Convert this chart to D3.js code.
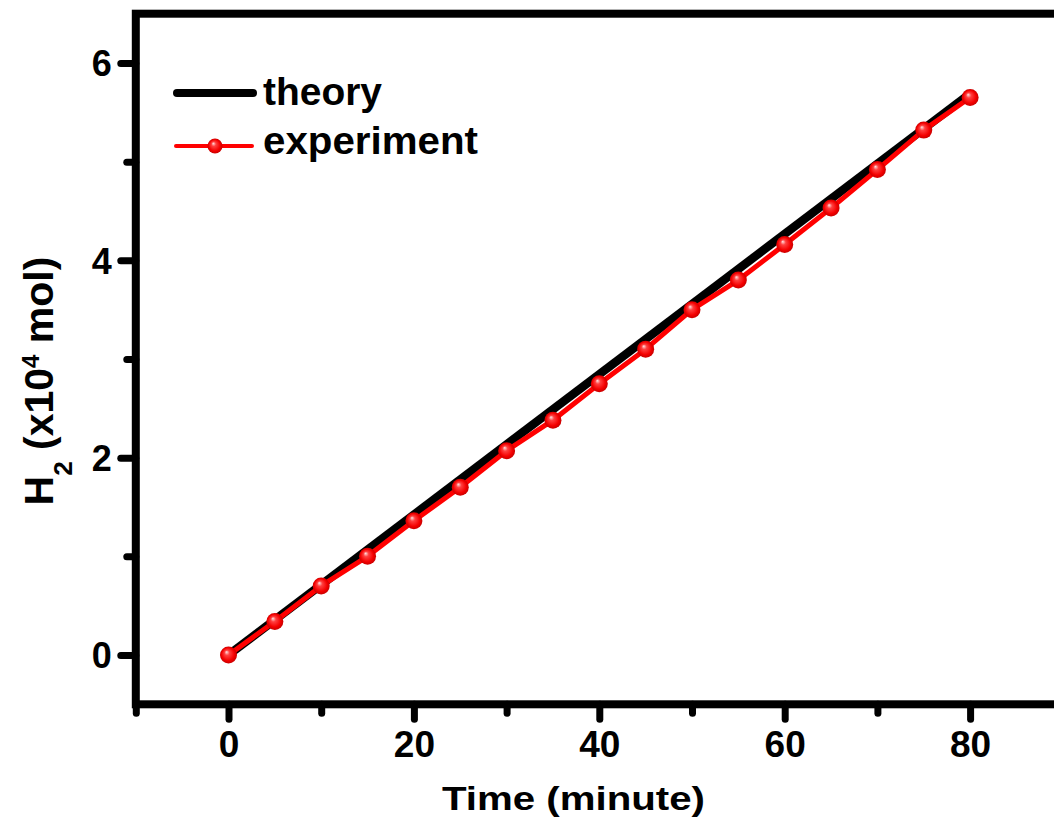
<!DOCTYPE html>
<html>
<head>
<meta charset="utf-8">
<script src="https://cdn.jsdelivr.net/npm/d3@7"></script>
<style>
  html, body { margin: 0; padding: 0; background: #fff; }
  svg { display: block; font-family: "Liberation Sans", Arial, sans-serif; font-weight: bold; }
</style>
</head>
<body>
<div id="chart"></div>
<script>
// data
const time = [0, 5, 10, 15, 20, 25, 30, 35, 40, 45, 50, 55, 60, 65, 70, 75, 80];
const experiment = [0, 0.34, 0.70, 1.00, 1.36, 1.70, 2.07, 2.38, 2.75, 3.10, 3.50, 3.80, 4.16, 4.53, 4.92, 5.32, 5.65];
const theoryTime = [0, 80];
const theory = [0, 5.69];
const xTicks = [0, 20, 40, 60, 80];
const xMinor = [-10, 10, 30, 50, 70, 90];
const yTicks = [0, 2, 4, 6];
const yMinor = [1, 3, 5];

const width = 1054, height = 827;

const svg = d3.select("#chart").append("svg")
  .attr("width", width)
  .attr("height", height);

const x = d3.scaleLinear().domain([-10, 90]).range([135.8, 1062.8]);
const y = d3.scaleLinear().domain([-0.5, 6.5]).range([704.3, 13.7]);

// marker gradient (shiny ball)
const grad = svg.append("defs").append("radialGradient")
  .attr("id", "ball")
  .attr("cx", "50%").attr("cy", "50%").attr("r", "50%")
  .attr("fx", "38%").attr("fy", "32%");
grad.append("stop").attr("offset", "0%").attr("stop-color", "#ffe4e4");
grad.append("stop").attr("offset", "30%").attr("stop-color", "#ff4040");
grad.append("stop").attr("offset", "75%").attr("stop-color", "#f40000");
grad.append("stop").attr("offset", "100%").attr("stop-color", "#c80000");

// axes with outward ticks
function styleAxis(g) {
  g.select(".domain").remove();
  g.selectAll("line").attr("stroke", "#000").attr("stroke-width", 7).attr("stroke-linecap", "round");
}

svg.append("g")
  .attr("transform", "translate(0," + y(-0.5) + ")")
  .call(d3.axisBottom(x).tickValues(xMinor).tickSize(9).tickFormat(""))
  .call(styleAxis);

svg.append("g")
  .attr("transform", "translate(0," + y(-0.5) + ")")
  .call(d3.axisBottom(x).tickValues(xTicks).tickSize(15).tickFormat(d3.format("d")))
  .call(styleAxis)
  .call(g => g.selectAll("text")
    .attr("y", 53).attr("dy", 0)
    .attr("fill", "#000")
    .style("font-size", "37px"));

svg.append("g")
  .attr("transform", "translate(" + x(-10) + ",0)")
  .call(d3.axisLeft(y).tickValues(yMinor).tickSize(9).tickFormat(""))
  .call(styleAxis);

svg.append("g")
  .attr("transform", "translate(" + x(-10) + ",0)")
  .call(d3.axisLeft(y).tickValues(yTicks).tickSize(15).tickFormat(d3.format("d")))
  .call(styleAxis)
  .call(g => g.selectAll("text")
    .attr("x", -24).attr("dy", "0.36em")
    .attr("fill", "#000")
    .style("font-size", "36px"));

// frame
svg.append("rect")
  .attr("x", x(-10)).attr("y", y(6.5))
  .attr("width", x(90) - x(-10)).attr("height", y(-0.5) - y(6.5))
  .attr("fill", "none").attr("stroke", "#000").attr("stroke-width", 8);

// theory line
const theoryLine = d3.line()
  .x((d, i) => x(theoryTime[i]))
  .y(d => y(d));

svg.append("path")
  .datum(theory)
  .attr("d", theoryLine)
  .attr("fill", "none")
  .attr("stroke", "#000")
  .attr("stroke-width", 8.5);

// experiment line + markers
const expLine = d3.line()
  .x((d, i) => x(time[i]))
  .y(d => y(d));

svg.append("path")
  .datum(experiment)
  .attr("d", expLine)
  .attr("fill", "none")
  .attr("stroke", "#ff0000")
  .attr("stroke-width", 5)
  .attr("stroke-linejoin", "round");

svg.append("g").selectAll("circle")
  .data(experiment)
  .join("circle")
  .attr("cx", (d, i) => x(time[i]))
  .attr("cy", d => y(d))
  .attr("r", 8.5)
  .attr("fill", "url(#ball)");

// legend
const legend = svg.append("g");
legend.append("line")
  .attr("x1", 177).attr("x2", 253).attr("y1", 93).attr("y2", 93)
  .attr("stroke", "#000").attr("stroke-width", 8).attr("stroke-linecap", "round");
legend.append("text")
  .attr("x", 263).attr("y", 105)
  .attr("textLength", 119).attr("lengthAdjust", "spacingAndGlyphs")
  .style("font-size", "38px")
  .text("theory");

legend.append("line")
  .attr("x1", 176).attr("x2", 252).attr("y1", 146).attr("y2", 146)
  .attr("stroke", "#ff0000").attr("stroke-width", 4).attr("stroke-linecap", "round");
legend.append("circle")
  .attr("cx", 215).attr("cy", 146).attr("r", 7.5)
  .attr("fill", "url(#ball)");
legend.append("text")
  .attr("x", 263).attr("y", 154)
  .attr("textLength", 215).attr("lengthAdjust", "spacingAndGlyphs")
  .style("font-size", "38px")
  .text("experiment");

// axis titles
svg.append("text")
  .attr("x", 573.5).attr("y", 810)
  .attr("text-anchor", "middle")
  .attr("textLength", 263).attr("lengthAdjust", "spacingAndGlyphs")
  .style("font-size", "34px")
  .text("Time (minute)");

const yTitle = svg.append("text")
  .attr("transform", "translate(53,381) rotate(-90)")
  .attr("text-anchor", "middle")
  .style("font-size", "41px");
yTitle.append("tspan").text("H");
yTitle.append("tspan").attr("dy", 19).style("font-size", "26px").text("2");
yTitle.append("tspan").attr("dy", -19).text(" (x10");
yTitle.append("tspan").attr("dy", -14).style("font-size", "24px").text("4");
yTitle.append("tspan").attr("dy", 14).text(" mol)");
</script>
</body>
</html>
